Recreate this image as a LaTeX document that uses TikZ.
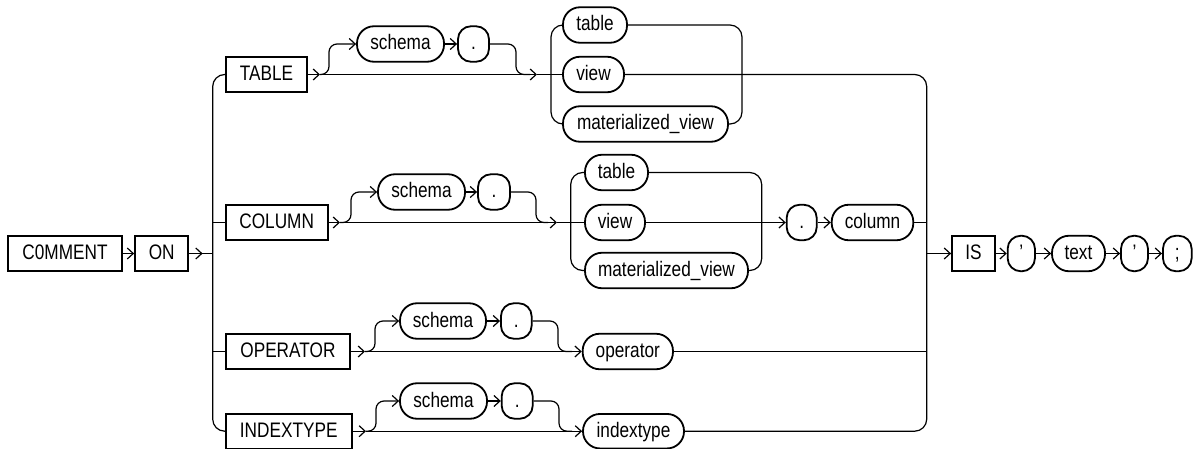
\documentclass[tikz,border=0pt]{standalone}
\usepackage{fontspec}
\setmainfont{Liberation Sans}[FakeStretch=0.82]
\usetikzlibrary{arrows.meta}
\newcommand{\rrfont}{\fontsize{21pt}{24pt}\selectfont}
\tikzset{
  base/.style={draw, line width=1.8pt, inner sep=0pt, minimum height=35.5pt,
    text height=13pt, text depth=1pt, font=\rrfont},
  kw/.style={base, rectangle},
  term/.style={base, rounded corners=17pt},
  punc/.style={base, rounded corners=13pt},
  conn/.style={line width=1.2pt},
  arr/.style={conn, -{Straight Barb[length=6pt,width=11pt]}},
  rail/.style={conn, rounded corners=12pt},
  byp/.style={conn, rounded corners=8pt},
}
\begin{document}
\begin{tikzpicture}[x=1pt,y=-1pt]
\fill[white] (0,0) rectangle (1199,449);
\useasboundingbox (0,0) rectangle (1199,449);

% main line
\node[kw, minimum width=113.4pt] (comment) at (65,253.5) {C0MMENT};
\node[kw, minimum width=53.3pt] (on) at (161.7,253.5) {ON};
\node[kw, minimum width=43pt] (is) at (973.5,253.5) {IS};
\node[punc, minimum width=27.3pt] (q1) at (1021.3,253.5) {’};
\node[term, minimum width=53pt] (text) at (1078.5,253.5) {text};
\node[punc, minimum width=27pt] (q2) at (1134.5,253.5) {’};
\node[punc, minimum width=28.7pt] (semi) at (1177.3,253.5) {;};

% branch keywords
\node[kw, minimum width=81pt] (TABLE) at (266.5,74.5) {TABLE};
\node[kw, minimum width=102pt] (COLUMN) at (276.7,222.5) {COLUMN};
\node[kw, minimum width=124.3pt] (OPERATOR) at (287.9,351.5) {OPERATOR};
\node[kw, minimum width=126pt, minimum height=34.5pt] (INDEXTYPE) at (288.7,431.2) {INDEXTYPE};

% TABLE row
\node[term, minimum width=87pt] (schema1) at (400.5,44) {schema};
\node[punc, minimum width=31pt] (dot1) at (473.5,44) {.};
\node[term, minimum width=64pt] (table1) at (595,25) {table};
\node[term, minimum width=61pt] (view1) at (593.5,74.5) {view};
\node[term, minimum width=165pt] (mat1) at (645.5,124) {materialized\_view};

% COLUMN row
\node[term, minimum width=87pt] (schema2) at (421.5,192) {schema};
\node[punc, minimum width=32pt] (dot2) at (494,192) {.};
\node[term, minimum width=63pt] (table2) at (616.5,172.5) {table};
\node[term, minimum width=60pt] (view2) at (615,222.5) {view};
\node[term, minimum width=163pt] (mat2) at (666.5,270.5) {materialized\_view};
\node[punc, minimum width=30pt] (dot3) at (801.7,222.5) {.};
\node[term, minimum width=81.6pt] (column) at (872.5,222.5) {column};

% OPERATOR row
\node[term, minimum width=86pt] (schema3) at (443,321) {schema};
\node[punc, minimum width=30.7pt] (dot4) at (516.3,321) {.};
\node[term, minimum width=90.3pt] (operator) at (627.8,351.5) {operator};

% INDEXTYPE row
\node[term, minimum width=87pt] (schema4) at (443.5,401) {schema};
\node[punc, minimum width=31pt] (dot5) at (517.2,401) {.};
\node[term, minimum width=101pt, minimum height=34.5pt] (indextype) at (633.5,431.2) {indextype};

% junctions
\coordinate (jL) at (212.7,253.5);
\coordinate (jR) at (926.7,253.5);
\coordinate (a1) at (320,74.5);
\coordinate (a2) at (537,74.5);
\coordinate (a3) at (340,222.5);
\coordinate (a4) at (557,222.5);
\coordinate (a5) at (365,351.5);
\coordinate (a6) at (366,431.2);

% main sequence
\draw[arr] (comment.east) -- (on.west);
\draw[conn] (on.east) -- (jL);
\draw[arr] (on.east) -- ++(13.4,0);
\draw[arr] (jR) -- (is.west);
\draw[arr] (is.east) -- (q1.west);
\draw[arr] (q1.east) -- (text.west);
\draw[arr] (text.east) -- (q2.west);
\draw[arr] (q2.east) -- (semi.west);

% left and right rails
\draw[rail] (TABLE.west) -| (212.7,431.2) -- (INDEXTYPE.west);
\draw[conn] (COLUMN.west) -- (COLUMN.west -| jL);
\draw[conn] (OPERATOR.west) -- (OPERATOR.west -| jL);
\draw[rail] (view1.east) -| (926.7,431.2) -- (indextype.east);
\draw[conn] (column.east) -- (column.east -| jR);
\draw[conn] (operator.east) -- (operator.east -| jR);

% TABLE row connectors
\draw[arr] (TABLE.east) -- (a1);
\draw[arr, byp] (a1) -- (329,74.5) -- (329,44) -- (schema1.west);
\draw[arr] (schema1.east) -- (dot1.west);
\draw[byp] (dot1.east) -- (516,44) -- (516,74.5) -- (530,74.5);
\draw[arr] (a1) -- (a2);
\draw[conn] (a2) -- (view1.west);
\draw[rail] (table1.west) -| (551,124) -- (mat1.west);
\draw[rail] (table1.east) -| (742,124) -- (mat1.east);

% COLUMN row connectors
\draw[arr] (COLUMN.east) -- (a3);
\draw[arr, byp] (a3) -- (351,222.5) -- (351,192) -- (schema2.west);
\draw[arr] (schema2.east) -- (dot2.west);
\draw[byp] (dot2.east) -- (536,192) -- (536,222.5) -- (548,222.5);
\draw[arr] (a3) -- (a4);
\draw[conn] (a4) -- (view2.west);
\draw[rail] (table2.west) -| (570.7,270.5) -- (mat2.west);
\draw[rail] (table2.east) -| (761.7,270.5) -- (mat2.east);
\draw[arr] (view2.east) -- (dot3.west);
\draw[arr] (dot3.east) -- (column.west);

% OPERATOR row connectors
\draw[arr] (OPERATOR.east) -- (a5);
\draw[arr, byp] (a5) -- (375,351.5) -- (375,321) -- (schema3.west);
\draw[arr] (schema3.east) -- (dot4.west);
\draw[byp] (dot4.east) -- (558,321) -- (558,351.5) -- (572,351.5);
\draw[arr] (a5) -- (operator.west);

% INDEXTYPE row connectors
\draw[arr] (INDEXTYPE.east) -- (a6);
\draw[arr, byp] (a6) -- (376,431.2) -- (376,401) -- (schema4.west);
\draw[arr] (schema4.east) -- (dot5.west);
\draw[byp] (dot5.east) -- (559,401) -- (559,431.2) -- (572,431.2);
\draw[arr] (a6) -- (indextype.west);
\end{tikzpicture}
\end{document}
